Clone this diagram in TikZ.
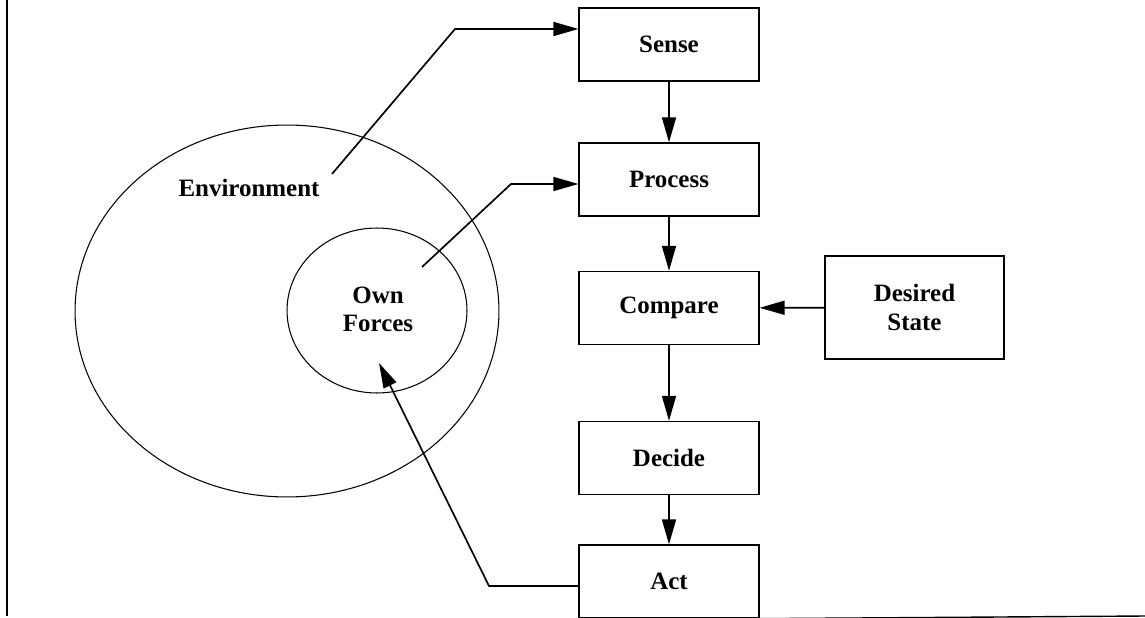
\documentclass[tikz,border=0pt]{standalone}
\usepackage{fontspec}
\setmainfont{Liberation Serif}
\usetikzlibrary{arrows.meta,shapes.geometric}

\tikzset{
  stage/.style={draw, line width=0.75pt, minimum width=3.6cm, minimum height=1.46cm, inner sep=0pt, font=\bfseries\fontsize{14.2}{16.5}\selectfont},
  tag/.style={inner sep=0pt, font=\bfseries\fontsize{14.2}{16}\selectfont},
  zone/.style={draw, ellipse, line width=0.6pt, inner sep=0pt},
  flow/.style={line width=0.95pt, -{Triangle[length=5mm,width=2.8mm]}},
}

\begin{document}
\begin{tikzpicture}[x=0.02cm,y=-0.02cm]
\useasboundingbox (0,0) rectangle (1145,618);
\newcommand{\stages}{sense/44.5/Sense, process/179.5/Process, compare/308/Compare, decide/458/Decide, act/581.5/Act}

% the two zones
\node[zone, minimum width=8.48cm, minimum height=7.44cm] (envzone) at (287,311) {};
\node[zone, minimum width=3.6cm, minimum height=3.3cm] (ownzone) at (377,310.5) {};
\node[tag] (envtext) at (249,188) {Environment};
\node[tag, align=center] (owntext) at (378,309) {Own\\Forces};

% the loop of stages
\foreach \name/\y/\txt in \stages
  \node[stage] (\name) at (669,\y) {\txt};
\node[stage, minimum width=3.58cm, minimum height=2.06cm, align=center] (desired) at (914.5,307.5) {Desired\\State};

% frame
\draw[line width=0.8pt] (7,0) -- (7,616);
\draw[line width=0.8pt] (act.south east) -- (1145,616);

\coordinate (envout) at (332,174);
\coordinate (envbend) at (455,29);
\coordinate (ownout) at (422,267);
\coordinate (ownbend) at (511,184);
\coordinate (actbend) at (489,586);
\coordinate (owntip) at (379,363);

\foreach \from/\to in {sense/process, process/compare, compare/decide, decide/act}
  \draw[flow] (\from) -- (\to);
\draw[flow] (desired) -- (compare);
\draw[flow] (envout) -- (envbend) -- (envbend -| sense.west);
\draw[flow] (ownout) -- (ownbend) -- (ownbend -| process.west);
\draw[flow] (actbend -| act.west) -- (actbend) -- (owntip);
\end{tikzpicture}
\end{document}
